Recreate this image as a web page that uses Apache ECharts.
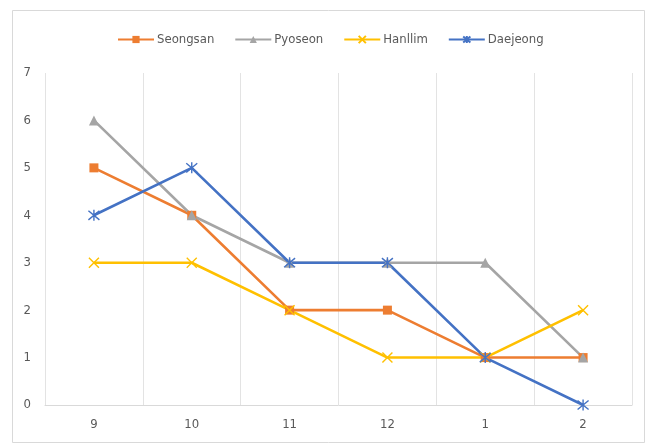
<!DOCTYPE html>
<html><head><meta charset="utf-8">
<script src="https://cdn.jsdelivr.net/npm/echarts@6/dist/echarts.min.js"></script>
<style>html,body{margin:0;padding:0;background:#fff}#c{width:653px;height:446px}</style>
</head><body><div id="c"></div>
<script>
const categories = ['9','10','11','12','1','2'];
const seongsan = [5,4,2,2,1,1];
const pyoseon = [6,4,3,3,3,1];
const hanllim = [3,3,2,1,1,2];
const daejeong = [4,5,3,3,1,0];
const yTicks = [0,1,2,3,4,5,6,7];

const FONT = '"Liberation Sans Narrow", "DejaVu Sans Condensed", sans-serif';
const crossPath = 'path://M0,0L10,10M10,0L0,10';
const starPath = 'path://M0,0L10,10M10,0L0,10M5,-1L5,11';

function mk(name, data, color, symbol, size, stroke) {
  return {
    name, type: 'line', data, symbol, symbolSize: size,
    lineStyle: { color, width: 2.6 },
    itemStyle: { color: stroke ? 'rgba(0,0,0,0)' : color, borderColor: color, borderWidth: stroke ? 1.4 : 0 },
    emphasis: { disabled: true },
    z: 2
  };
}

const chart = echarts.init(document.getElementById('c'), null, { renderer: 'canvas' });
chart.setOption({
  animation: false,
  backgroundColor: '#fff',
  graphic: [{ type: 'rect', shape: { x: 12.5, y: 10.5, width: 632, height: 432 }, style: { fill: 'none', stroke: '#d9d9d9', lineWidth: 1 }, z: -1 }],
  legend: {
    top: 28, left: 112, itemWidth: 36, itemHeight: 9, itemGap: 20,
    textStyle: { color: '#595959', fontSize: 13, fontFamily: FONT, padding: [0, 0, 0, -2] },
    data: ['Seongsan','Pyoseon','Hanllim','Daejeong']
  },
  grid: { left: 45, right: 21, top: 73, bottom: 41 },
  xAxis: {
    type: 'category', data: categories, boundaryGap: true,
    axisLine: { lineStyle: { color: '#d9d9d9', width: 1 } },
    axisTick: { show: false },
    axisLabel: { color: '#595959', fontSize: 13, fontFamily: FONT, margin: 13 },
    splitLine: { show: true, lineStyle: { color: '#e3e3e3', width: 1 } }
  },
  yAxis: {
    type: 'value', min: yTicks[0], max: yTicks[yTicks.length-1], interval: 1,
    axisLine: { show: false }, axisTick: { show: false },
    axisLabel: { color: '#595959', fontSize: 13, fontFamily: FONT, margin: 14 },
    splitLine: { show: false }
  },
  series: [
    mk('Seongsan', seongsan, '#ED7D31', 'rect', 9, false),
    mk('Pyoseon', pyoseon, '#A5A5A5', 'triangle', 10, false),
    mk('Hanllim', hanllim, '#FFC000', crossPath, 10, true),
    mk('Daejeong', daejeong, '#4472C4', starPath, 11, true)
  ]
});
</script></body></html>
